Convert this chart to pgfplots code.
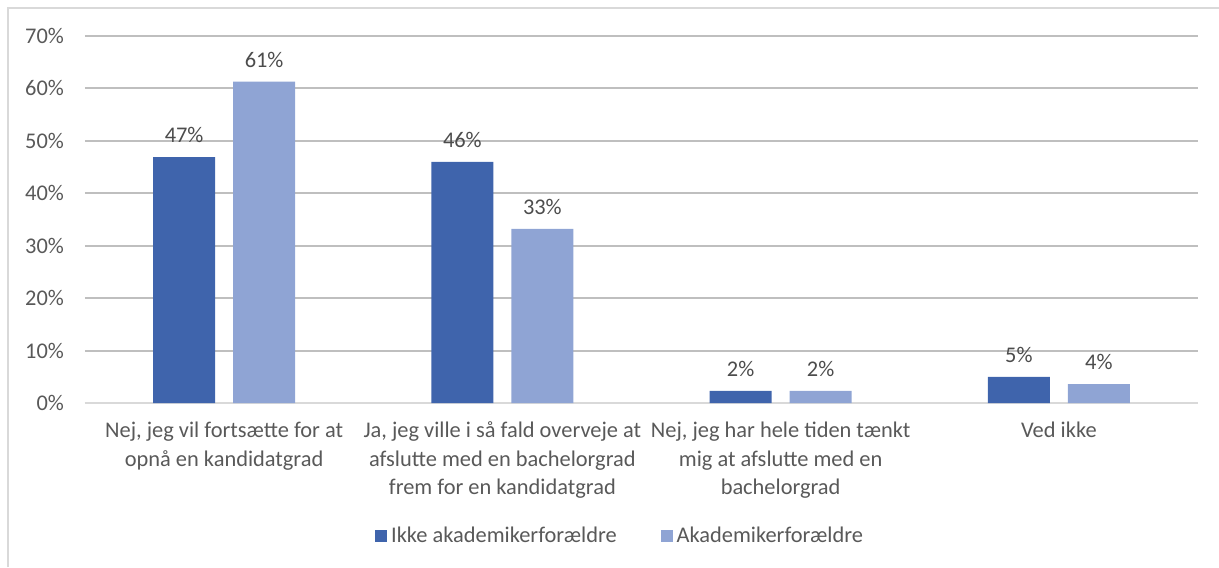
\documentclass[border=0pt]{standalone}
\usepackage{pgfplots}
\pgfplotsset{compat=1.18}
\usepackage{fontspec}
\setmainfont{Carlito}
\definecolor{darkbar}{HTML}{3F64AC}
\definecolor{lightbar}{HTML}{8FA4D4}
\definecolor{txt}{HTML}{595959}
\definecolor{grid}{HTML}{D9D9D9}
\begin{document}
\begin{tikzpicture}
\useasboundingbox (-42.5pt,-82pt) rectangle (567pt,201.5pt);
\draw[grid, line width=1pt] (-38.5pt,-82pt) -- (-38.5pt,197.5pt) -- (567pt,197.5pt);
\begin{axis}[
  at={(0pt,0pt)}, anchor=south west,
  scale only axis,
  width=556.5pt, height=183.5pt,
  ymin=0, ymax=70,
  xmin=-0.5, xmax=3.5,
  ytick={0,10,...,70},
  yticklabel={\pgfmathprintnumber{\tick}\%},
  /pgf/number format/assume math mode=true,
  xtick={0,1,2,3},
  xticklabels={{Nej, jeg vil fortsætte for at\\opnå en kandidatgrad},
               {Ja, jeg ville i så fald overveje at\\afslutte med en bachelorgrad\\frem for en kandidatgrad},
               {Nej, jeg har hele tiden tænkt\\mig at afslutte med en\\bachelorgrad},
               {Ved ikke}},
  xticklabel style={align=center, font=\fontsize{11.2}{14.2}\selectfont, text=txt, yshift=-6pt},
  yticklabel style={font=\fontsize{11.2}{12}\selectfont, text=txt, xshift=-7pt},
  major tick length=0pt,
  ymajorgrids, xmajorgrids=false, grid style={grid, line width=1pt},
  axis lines*=left,
  y axis line style={draw=none},
  x axis line style={grid, line width=1pt, -},
  ybar, bar width=31pt,
  nodes near coords={\pgfmathprintnumber[fixed,precision=0]{\pgfplotspointmeta}\%},
  every node near coord/.append style={font=\fontsize{11.2}{12}\selectfont, text=txt!85!black, yshift=3.5pt},
  legend style={draw=none, at={(0.4816,-0.3624)}, anchor=center, legend columns=2,
    font=\fontsize{11.2}{12}\selectfont, text=txt,
    /tikz/every even column/.append style={column sep=20pt}},
  legend image code/.code={\fill[#1] (0pt,-3pt) rectangle (6pt,3pt);},
]
\addplot[fill=darkbar, draw=none, bar shift=-20pt] coordinates {(0,46.9) (1,46.0) (2,2.3) (3,5.0)};
\addplot[fill=lightbar, draw=none, bar shift=20pt] coordinates {(0,61.3) (1,33.2) (2,2.3) (3,3.6)};
\legend{Ikke akademikerforældre, Akademikerforældre}
\end{axis}
\end{tikzpicture}
\end{document}
